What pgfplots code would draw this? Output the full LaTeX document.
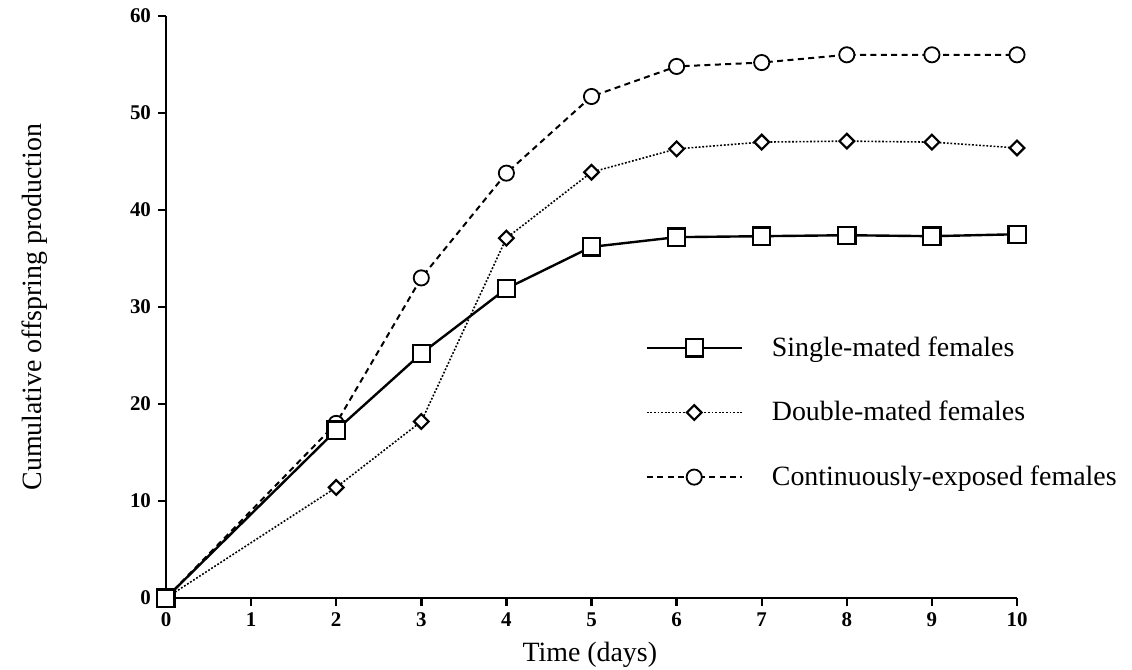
\documentclass[border=0pt]{standalone}
\usepackage{pgfplots}
\pgfplotsset{compat=1.18}
\usepackage{fontspec}
\setmainfont{Liberation Serif}
\begin{document}
\begin{tikzpicture}
\path[use as bounding box] (-83bp,-36bp) rectangle (483bp,299bp);
\begin{axis}[
  at={(0,0)}, anchor=south west,
  scale only axis, width=425.5bp, height=291bp,
  xmin=0, xmax=10, ymin=0, ymax=60,
  axis x line=bottom, axis y line=left,
  axis line style={-, line width=1.4bp},
  xtick={0,1,...,10}, ytick={0,10,...,60},
  tick align=outside, major tick length=4bp,
  tick style={line width=1.2bp, black},
  ticklabel style={font=\bfseries\fontsize{10.5}{12}\selectfont},
  /pgf/number format/assume math mode=true,
  clip=false,
  xlabel={Time (days)}, ylabel={Cumulative offspring production},
  label style={font=\fontsize{14}{16}\selectfont},
  xlabel style={at={(axis description cs:0.498,0)}, anchor=center, yshift=-28.5bp},
  ylabel style={at={(axis description cs:-0.154,0.5)}, anchor=center},
  legend cell align=left,
  reverse legend,
  legend style={at={(axis cs:5.63,27.4)}, anchor=north west, draw=none, fill=none,
    font=\fontsize{14}{16}\selectfont, row sep=17bp, column sep=12.5bp, inner sep=0pt},
  legend image code/.code={\draw[#1, mark indices={2}] plot coordinates {(0bp,0bp)(23.75bp,0bp)(47.5bp,0bp)};},
]
\addplot[black, line width=1bp, dash pattern=on 3bp off 2.2bp,
  mark=*, mark size=3.8bp, mark indices={2,...,10},
  mark options={solid, fill=white, line width=0.9bp}]
  coordinates {(0,0) (2,18.0) (3,33.0) (4,43.8) (5,51.7) (6,54.8) (7,55.2) (8,56.0) (9,56.0) (10,56.0)};
\addlegendentry{Continuously-exposed females}
\addplot[black, line width=0.8bp, dash pattern=on 0.9bp off 0.9bp,
  mark=square*, mark size=2.6bp, mark indices={2,...,10},
  mark options={solid, fill=white, line width=1.1bp, rotate=45}]
  coordinates {(0,0) (2,11.4) (3,18.2) (4,37.1) (5,43.9) (6,46.3) (7,47.0) (8,47.1) (9,47.0) (10,46.4)};
\addlegendentry{Double-mated females}
\addplot[black, line width=1.2bp, solid,
  mark=square*, mark size=4.3bp,
  mark options={solid, fill=white, line width=1.1bp}]
  coordinates {(0,0) (2,17.3) (3,25.2) (4,31.9) (5,36.2) (6,37.2) (7,37.3) (8,37.4) (9,37.3) (10,37.5)};
\addlegendentry{Single-mated females}
\end{axis}
\end{tikzpicture}
\end{document}
